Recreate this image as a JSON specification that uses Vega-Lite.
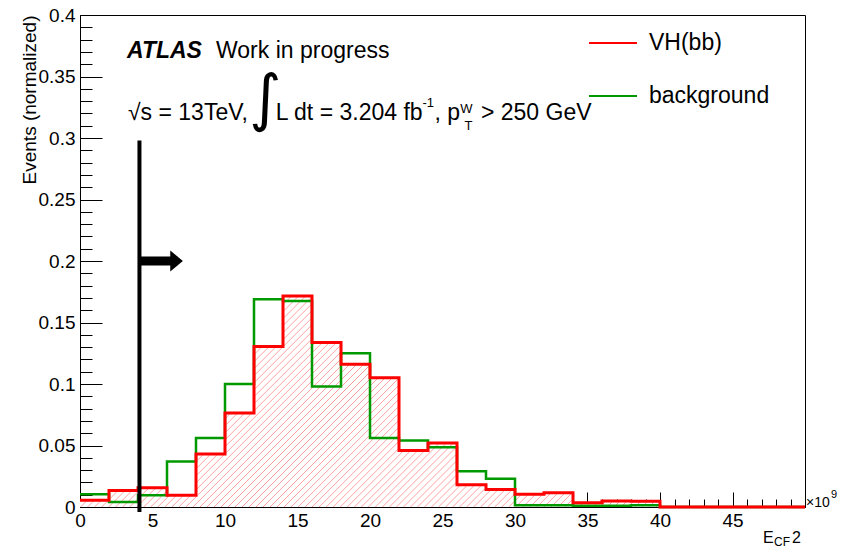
{
  "$schema": "https://vega.github.io/schema/vega-lite/v6.json",
  "width": 725,
  "height": 492,
  "autosize": {"type": "none"},
  "padding": {"left": 80, "top": 15, "right": 47, "bottom": 46},
  "background": "white",
  "config": {
    "view": {"stroke": "black", "strokeWidth": 1},
    "font": "Liberation Sans",
    "axis": {"grid": false, "domainColor": "black", "tickColor": "black", "tickWidth": 1, "labelColor": "black", "labelFont": "Liberation Sans", "labelFontSize": 19, "labelOverlap": false, "labelFlush": false}
  },
  "datasets": {
    "hist": [
      {"series": "background", "x": 0, "y": 0.0103},
      {"series": "background", "x": 2, "y": 0.0040},
      {"series": "background", "x": 4, "y": 0.0095},
      {"series": "background", "x": 6, "y": 0.0370},
      {"series": "background", "x": 8, "y": 0.0560},
      {"series": "background", "x": 10, "y": 0.1000},
      {"series": "background", "x": 12, "y": 0.1690},
      {"series": "background", "x": 14, "y": 0.1675},
      {"series": "background", "x": 16, "y": 0.0980},
      {"series": "background", "x": 18, "y": 0.1250},
      {"series": "background", "x": 20, "y": 0.0560},
      {"series": "background", "x": 22, "y": 0.0540},
      {"series": "background", "x": 24, "y": 0.0486},
      {"series": "background", "x": 26, "y": 0.0290},
      {"series": "background", "x": 28, "y": 0.0230},
      {"series": "background", "x": 30, "y": 0.0014},
      {"series": "background", "x": 32, "y": 0.0014},
      {"series": "background", "x": 34, "y": 0.0010},
      {"series": "background", "x": 36, "y": 0.0010},
      {"series": "background", "x": 38, "y": 0.0014},
      {"series": "background", "x": 40, "y": 0},
      {"series": "background", "x": 42, "y": 0},
      {"series": "background", "x": 44, "y": 0},
      {"series": "background", "x": 46, "y": 0},
      {"series": "background", "x": 48, "y": 0},
      {"series": "background", "x": 50, "y": 0},
      {"series": "VH(bb)", "x": 0, "y": 0.0054},
      {"series": "VH(bb)", "x": 2, "y": 0.0135},
      {"series": "VH(bb)", "x": 4, "y": 0.0157},
      {"series": "VH(bb)", "x": 6, "y": 0.0095},
      {"series": "VH(bb)", "x": 8, "y": 0.0430},
      {"series": "VH(bb)", "x": 10, "y": 0.0764},
      {"series": "VH(bb)", "x": 12, "y": 0.1305},
      {"series": "VH(bb)", "x": 14, "y": 0.1715},
      {"series": "VH(bb)", "x": 16, "y": 0.1337},
      {"series": "VH(bb)", "x": 18, "y": 0.1160},
      {"series": "VH(bb)", "x": 20, "y": 0.1050},
      {"series": "VH(bb)", "x": 22, "y": 0.0460},
      {"series": "VH(bb)", "x": 24, "y": 0.0520},
      {"series": "VH(bb)", "x": 26, "y": 0.0180},
      {"series": "VH(bb)", "x": 28, "y": 0.0143},
      {"series": "VH(bb)", "x": 30, "y": 0.0103},
      {"series": "VH(bb)", "x": 32, "y": 0.0116},
      {"series": "VH(bb)", "x": 34, "y": 0.0035},
      {"series": "VH(bb)", "x": 36, "y": 0.0049},
      {"series": "VH(bb)", "x": 38, "y": 0.0046},
      {"series": "VH(bb)", "x": 40, "y": 0},
      {"series": "VH(bb)", "x": 42, "y": 0},
      {"series": "VH(bb)", "x": 44, "y": 0},
      {"series": "VH(bb)", "x": 46, "y": 0},
      {"series": "VH(bb)", "x": 48, "y": 0},
      {"series": "VH(bb)", "x": 50, "y": 0}
    ]
  },
  "encoding": {
    "x": {"field": "x", "type": "quantitative", "scale": {"domain": [0, 50], "nice": false, "zero": false},
      "axis": {"title": null, "values": [0,1,2,3,4,5,6,7,8,9,10,11,12,13,14,15,16,17,18,19,20,21,22,23,24,25,26,27,28,29,30,31,32,33,34,35,36,37,38,39,40,41,42,43,44,45,46,47,48,49,50],
        "tickSize": {"condition": {"test": "datum.value % 5 === 0", "value": -15}, "value": -8},
        "labelExpr": "datum.value % 5 === 0 && datum.value < 50 ? datum.label : ''", "labelPadding": 19}},
    "y": {"field": "y", "type": "quantitative", "scale": {"domain": [0, 0.4], "nice": false},
      "axis": {"title": "Events (normalized)", "titleFont": "Liberation Sans", "titleFontSize": 19, "titleFontWeight": "normal", "titleColor": "black",
        "titleAngle": -90, "titleAlign": "right", "titleBaseline": "alphabetic", "titleX": -45, "titleY": 0,
        "values": [0,0.01,0.02,0.03,0.04,0.05,0.06,0.07,0.08,0.09,0.1,0.11,0.12,0.13,0.14,0.15,0.16,0.17,0.18,0.19,0.2,0.21,0.22,0.23,0.24,0.25,0.26,0.27,0.28,0.29,0.3,0.31,0.32,0.33,0.34,0.35,0.36,0.37,0.38,0.39,0.4],
        "tickSize": {"condition": {"test": "round(datum.value * 100) % 5 === 0", "value": -22}, "value": -12},
        "labelExpr": "round(datum.value * 100) % 5 === 0 ? format(datum.value, '~g') : ''", "labelPadding": 27}}
  },
  "layer": [
    {
      "data": {"name": "hist"},
      "transform": [{"filter": "datum.series === 'VH(bb)'"}],
      "mark": {"type": "area", "interpolate": "step-after", "fill": {"gradient": "linear", "x1": 0, "y1": 0, "x2": 1.1902, "y2": 0.3464, "stops": [
        {"offset":0,"color":"#fff"},{"offset":0.001,"color":"#f99"},{"offset":0.002,"color":"#fff"},
        {"offset":0.0075,"color":"#fff"},{"offset":0.0085,"color":"#f99"},{"offset":0.0095,"color":"#fff"},
        {"offset":0.015,"color":"#fff"},{"offset":0.016,"color":"#f99"},{"offset":0.017,"color":"#fff"},
        {"offset":0.0225,"color":"#fff"},{"offset":0.0235,"color":"#f99"},{"offset":0.0245,"color":"#fff"},
        {"offset":0.03,"color":"#fff"},{"offset":0.031,"color":"#f99"},{"offset":0.032,"color":"#fff"},
        {"offset":0.0375,"color":"#fff"},{"offset":0.0385,"color":"#f99"},{"offset":0.0395,"color":"#fff"},
        {"offset":0.045,"color":"#fff"},{"offset":0.046,"color":"#f99"},{"offset":0.047,"color":"#fff"},
        {"offset":0.0525,"color":"#fff"},{"offset":0.0535,"color":"#f99"},{"offset":0.0545,"color":"#fff"},
        {"offset":0.06,"color":"#fff"},{"offset":0.061,"color":"#f99"},{"offset":0.062,"color":"#fff"},
        {"offset":0.0675,"color":"#fff"},{"offset":0.0685,"color":"#f99"},{"offset":0.0695,"color":"#fff"},
        {"offset":0.075,"color":"#fff"},{"offset":0.076,"color":"#f99"},{"offset":0.077,"color":"#fff"},
        {"offset":0.0825,"color":"#fff"},{"offset":0.0835,"color":"#f99"},{"offset":0.0845,"color":"#fff"},
        {"offset":0.09,"color":"#fff"},{"offset":0.091,"color":"#f99"},{"offset":0.092,"color":"#fff"},
        {"offset":0.0975,"color":"#fff"},{"offset":0.0985,"color":"#f99"},{"offset":0.0995,"color":"#fff"},
        {"offset":0.105,"color":"#fff"},{"offset":0.106,"color":"#f99"},{"offset":0.107,"color":"#fff"},
        {"offset":0.1125,"color":"#fff"},{"offset":0.1135,"color":"#f99"},{"offset":0.1145,"color":"#fff"},
        {"offset":0.12,"color":"#fff"},{"offset":0.121,"color":"#f99"},{"offset":0.122,"color":"#fff"},
        {"offset":0.1275,"color":"#fff"},{"offset":0.1285,"color":"#f99"},{"offset":0.1295,"color":"#fff"},
        {"offset":0.135,"color":"#fff"},{"offset":0.136,"color":"#f99"},{"offset":0.137,"color":"#fff"},
        {"offset":0.1425,"color":"#fff"},{"offset":0.1435,"color":"#f99"},{"offset":0.1445,"color":"#fff"},
        {"offset":0.15,"color":"#fff"},{"offset":0.151,"color":"#f99"},{"offset":0.152,"color":"#fff"},
        {"offset":0.1575,"color":"#fff"},{"offset":0.1585,"color":"#f99"},{"offset":0.1595,"color":"#fff"},
        {"offset":0.165,"color":"#fff"},{"offset":0.166,"color":"#f99"},{"offset":0.167,"color":"#fff"},
        {"offset":0.1725,"color":"#fff"},{"offset":0.1735,"color":"#f99"},{"offset":0.1745,"color":"#fff"},
        {"offset":0.18,"color":"#fff"},{"offset":0.181,"color":"#f99"},{"offset":0.182,"color":"#fff"},
        {"offset":0.1875,"color":"#fff"},{"offset":0.1885,"color":"#f99"},{"offset":0.1895,"color":"#fff"},
        {"offset":0.195,"color":"#fff"},{"offset":0.196,"color":"#f99"},{"offset":0.197,"color":"#fff"},
        {"offset":0.2025,"color":"#fff"},{"offset":0.2035,"color":"#f99"},{"offset":0.2045,"color":"#fff"},
        {"offset":0.21,"color":"#fff"},{"offset":0.211,"color":"#f99"},{"offset":0.212,"color":"#fff"},
        {"offset":0.2175,"color":"#fff"},{"offset":0.2185,"color":"#f99"},{"offset":0.2195,"color":"#fff"},
        {"offset":0.225,"color":"#fff"},{"offset":0.226,"color":"#f99"},{"offset":0.227,"color":"#fff"},
        {"offset":0.2325,"color":"#fff"},{"offset":0.2335,"color":"#f99"},{"offset":0.2345,"color":"#fff"},
        {"offset":0.24,"color":"#fff"},{"offset":0.241,"color":"#f99"},{"offset":0.242,"color":"#fff"},
        {"offset":0.2475,"color":"#fff"},{"offset":0.2485,"color":"#f99"},{"offset":0.2495,"color":"#fff"},
        {"offset":0.255,"color":"#fff"},{"offset":0.256,"color":"#f99"},{"offset":0.257,"color":"#fff"},
        {"offset":0.2625,"color":"#fff"},{"offset":0.2635,"color":"#f99"},{"offset":0.2645,"color":"#fff"},
        {"offset":0.27,"color":"#fff"},{"offset":0.271,"color":"#f99"},{"offset":0.272,"color":"#fff"},
        {"offset":0.2775,"color":"#fff"},{"offset":0.2785,"color":"#f99"},{"offset":0.2795,"color":"#fff"},
        {"offset":0.285,"color":"#fff"},{"offset":0.286,"color":"#f99"},{"offset":0.287,"color":"#fff"},
        {"offset":0.2925,"color":"#fff"},{"offset":0.2935,"color":"#f99"},{"offset":0.2945,"color":"#fff"},
        {"offset":0.3,"color":"#fff"},{"offset":0.301,"color":"#f99"},{"offset":0.302,"color":"#fff"},
        {"offset":0.3075,"color":"#fff"},{"offset":0.3085,"color":"#f99"},{"offset":0.3095,"color":"#fff"},
        {"offset":0.315,"color":"#fff"},{"offset":0.316,"color":"#f99"},{"offset":0.317,"color":"#fff"},
        {"offset":0.3225,"color":"#fff"},{"offset":0.3235,"color":"#f99"},{"offset":0.3245,"color":"#fff"},
        {"offset":0.33,"color":"#fff"},{"offset":0.331,"color":"#f99"},{"offset":0.332,"color":"#fff"},
        {"offset":0.3375,"color":"#fff"},{"offset":0.3385,"color":"#f99"},{"offset":0.3395,"color":"#fff"},
        {"offset":0.345,"color":"#fff"},{"offset":0.346,"color":"#f99"},{"offset":0.347,"color":"#fff"},
        {"offset":0.3525,"color":"#fff"},{"offset":0.3535,"color":"#f99"},{"offset":0.3545,"color":"#fff"},
        {"offset":0.36,"color":"#fff"},{"offset":0.361,"color":"#f99"},{"offset":0.362,"color":"#fff"},
        {"offset":0.3675,"color":"#fff"},{"offset":0.3685,"color":"#f99"},{"offset":0.3695,"color":"#fff"},
        {"offset":0.375,"color":"#fff"},{"offset":0.376,"color":"#f99"},{"offset":0.377,"color":"#fff"},
        {"offset":0.3825,"color":"#fff"},{"offset":0.3835,"color":"#f99"},{"offset":0.3845,"color":"#fff"},
        {"offset":0.39,"color":"#fff"},{"offset":0.391,"color":"#f99"},{"offset":0.392,"color":"#fff"},
        {"offset":0.3975,"color":"#fff"},{"offset":0.3985,"color":"#f99"},{"offset":0.3995,"color":"#fff"},
        {"offset":0.405,"color":"#fff"},{"offset":0.406,"color":"#f99"},{"offset":0.407,"color":"#fff"},
        {"offset":0.4125,"color":"#fff"},{"offset":0.4135,"color":"#f99"},{"offset":0.4145,"color":"#fff"},
        {"offset":0.42,"color":"#fff"},{"offset":0.421,"color":"#f99"},{"offset":0.422,"color":"#fff"},
        {"offset":0.4275,"color":"#fff"},{"offset":0.4285,"color":"#f99"},{"offset":0.4295,"color":"#fff"},
        {"offset":0.435,"color":"#fff"},{"offset":0.436,"color":"#f99"},{"offset":0.437,"color":"#fff"},
        {"offset":0.4425,"color":"#fff"},{"offset":0.4435,"color":"#f99"},{"offset":0.4445,"color":"#fff"},
        {"offset":0.45,"color":"#fff"},{"offset":0.451,"color":"#f99"},{"offset":0.452,"color":"#fff"},
        {"offset":0.4575,"color":"#fff"},{"offset":0.4585,"color":"#f99"},{"offset":0.4595,"color":"#fff"},
        {"offset":0.465,"color":"#fff"},{"offset":0.466,"color":"#f99"},{"offset":0.467,"color":"#fff"},
        {"offset":0.4725,"color":"#fff"},{"offset":0.4735,"color":"#f99"},{"offset":0.4745,"color":"#fff"},
        {"offset":0.48,"color":"#fff"},{"offset":0.481,"color":"#f99"},{"offset":0.482,"color":"#fff"},
        {"offset":0.4875,"color":"#fff"},{"offset":0.4885,"color":"#f99"},{"offset":0.4895,"color":"#fff"},
        {"offset":0.495,"color":"#fff"},{"offset":0.496,"color":"#f99"},{"offset":0.497,"color":"#fff"},
        {"offset":0.5025,"color":"#fff"},{"offset":0.5035,"color":"#f99"},{"offset":0.5045,"color":"#fff"},
        {"offset":0.51,"color":"#fff"},{"offset":0.511,"color":"#f99"},{"offset":0.512,"color":"#fff"},
        {"offset":0.5175,"color":"#fff"},{"offset":0.5185,"color":"#f99"},{"offset":0.5195,"color":"#fff"},
        {"offset":0.525,"color":"#fff"},{"offset":0.526,"color":"#f99"},{"offset":0.527,"color":"#fff"},
        {"offset":0.5325,"color":"#fff"},{"offset":0.5335,"color":"#f99"},{"offset":0.5345,"color":"#fff"},
        {"offset":0.54,"color":"#fff"},{"offset":0.541,"color":"#f99"},{"offset":0.542,"color":"#fff"},
        {"offset":0.5475,"color":"#fff"},{"offset":0.5485,"color":"#f99"},{"offset":0.5495,"color":"#fff"},
        {"offset":0.555,"color":"#fff"},{"offset":0.556,"color":"#f99"},{"offset":0.557,"color":"#fff"},
        {"offset":0.5625,"color":"#fff"},{"offset":0.5635,"color":"#f99"},{"offset":0.5645,"color":"#fff"},
        {"offset":0.57,"color":"#fff"},{"offset":0.571,"color":"#f99"},{"offset":0.572,"color":"#fff"},
        {"offset":0.5775,"color":"#fff"},{"offset":0.5785,"color":"#f99"},{"offset":0.5795,"color":"#fff"},
        {"offset":0.585,"color":"#fff"},{"offset":0.586,"color":"#f99"},{"offset":0.587,"color":"#fff"},
        {"offset":0.5925,"color":"#fff"},{"offset":0.5935,"color":"#f99"},{"offset":0.5945,"color":"#fff"},
        {"offset":0.6,"color":"#fff"},{"offset":0.601,"color":"#f99"},{"offset":0.602,"color":"#fff"},
        {"offset":0.6075,"color":"#fff"},{"offset":0.6085,"color":"#f99"},{"offset":0.6095,"color":"#fff"},
        {"offset":0.615,"color":"#fff"},{"offset":0.616,"color":"#f99"},{"offset":0.617,"color":"#fff"},
        {"offset":0.6225,"color":"#fff"},{"offset":0.6235,"color":"#f99"},{"offset":0.6245,"color":"#fff"},
        {"offset":0.63,"color":"#fff"},{"offset":0.631,"color":"#f99"},{"offset":0.632,"color":"#fff"},
        {"offset":0.6375,"color":"#fff"},{"offset":0.6385,"color":"#f99"},{"offset":0.6395,"color":"#fff"},
        {"offset":0.645,"color":"#fff"},{"offset":0.646,"color":"#f99"},{"offset":0.647,"color":"#fff"},
        {"offset":0.6525,"color":"#fff"},{"offset":0.6535,"color":"#f99"},{"offset":0.6545,"color":"#fff"},
        {"offset":0.66,"color":"#fff"},{"offset":0.661,"color":"#f99"},{"offset":0.662,"color":"#fff"},
        {"offset":0.6675,"color":"#fff"},{"offset":0.6685,"color":"#f99"},{"offset":0.6695,"color":"#fff"},
        {"offset":0.675,"color":"#fff"},{"offset":0.676,"color":"#f99"},{"offset":0.677,"color":"#fff"},
        {"offset":0.6825,"color":"#fff"},{"offset":0.6835,"color":"#f99"},{"offset":0.6845,"color":"#fff"},
        {"offset":0.69,"color":"#fff"},{"offset":0.691,"color":"#f99"},{"offset":0.692,"color":"#fff"},
        {"offset":0.6975,"color":"#fff"},{"offset":0.6985,"color":"#f99"},{"offset":0.6995,"color":"#fff"},
        {"offset":0.705,"color":"#fff"},{"offset":0.706,"color":"#f99"},{"offset":0.707,"color":"#fff"},
        {"offset":0.7125,"color":"#fff"},{"offset":0.7135,"color":"#f99"},{"offset":0.7145,"color":"#fff"},
        {"offset":0.72,"color":"#fff"},{"offset":0.721,"color":"#f99"},{"offset":0.722,"color":"#fff"},
        {"offset":0.7275,"color":"#fff"},{"offset":0.7285,"color":"#f99"},{"offset":0.7295,"color":"#fff"},
        {"offset":0.735,"color":"#fff"},{"offset":0.736,"color":"#f99"},{"offset":0.737,"color":"#fff"},
        {"offset":0.7425,"color":"#fff"},{"offset":0.7435,"color":"#f99"},{"offset":0.7445,"color":"#fff"},
        {"offset":0.75,"color":"#fff"},{"offset":0.751,"color":"#f99"},{"offset":0.752,"color":"#fff"},
        {"offset":0.7575,"color":"#fff"},{"offset":0.7585,"color":"#f99"},{"offset":0.7595,"color":"#fff"},
        {"offset":0.765,"color":"#fff"},{"offset":0.766,"color":"#f99"},{"offset":0.767,"color":"#fff"},
        {"offset":0.7725,"color":"#fff"},{"offset":0.7735,"color":"#f99"},{"offset":0.7745,"color":"#fff"},
        {"offset":0.78,"color":"#fff"},{"offset":0.781,"color":"#f99"},{"offset":0.782,"color":"#fff"},
        {"offset":0.7875,"color":"#fff"},{"offset":0.7885,"color":"#f99"},{"offset":0.7895,"color":"#fff"},
        {"offset":0.795,"color":"#fff"},{"offset":0.796,"color":"#f99"},{"offset":0.797,"color":"#fff"},
        {"offset":0.8025,"color":"#fff"},{"offset":0.8035,"color":"#f99"},{"offset":0.8045,"color":"#fff"},
        {"offset":0.81,"color":"#fff"},{"offset":0.811,"color":"#f99"},{"offset":0.812,"color":"#fff"},
        {"offset":0.8175,"color":"#fff"},{"offset":0.8185,"color":"#f99"},{"offset":0.8195,"color":"#fff"},
        {"offset":0.825,"color":"#fff"},{"offset":0.826,"color":"#f99"},{"offset":0.827,"color":"#fff"},
        {"offset":0.8325,"color":"#fff"},{"offset":0.8335,"color":"#f99"},{"offset":0.8345,"color":"#fff"},
        {"offset":0.84,"color":"#fff"},{"offset":0.841,"color":"#f99"},{"offset":0.842,"color":"#fff"},
        {"offset":0.8475,"color":"#fff"},{"offset":0.8485,"color":"#f99"},{"offset":0.8495,"color":"#fff"},
        {"offset":0.855,"color":"#fff"},{"offset":0.856,"color":"#f99"},{"offset":0.857,"color":"#fff"},
        {"offset":0.8625,"color":"#fff"},{"offset":0.8635,"color":"#f99"},{"offset":0.8645,"color":"#fff"},
        {"offset":0.87,"color":"#fff"},{"offset":0.871,"color":"#f99"},{"offset":0.872,"color":"#fff"},
        {"offset":0.8775,"color":"#fff"},{"offset":0.8785,"color":"#f99"},{"offset":0.8795,"color":"#fff"},
        {"offset":0.885,"color":"#fff"},{"offset":0.886,"color":"#f99"},{"offset":0.887,"color":"#fff"},
        {"offset":0.8925,"color":"#fff"},{"offset":0.8935,"color":"#f99"},{"offset":0.8945,"color":"#fff"},
        {"offset":0.9,"color":"#fff"},{"offset":0.901,"color":"#f99"},{"offset":0.902,"color":"#fff"},
        {"offset":0.9075,"color":"#fff"},{"offset":0.9085,"color":"#f99"},{"offset":0.9095,"color":"#fff"},
        {"offset":0.915,"color":"#fff"},{"offset":0.916,"color":"#f99"},{"offset":0.917,"color":"#fff"},
        {"offset":0.9225,"color":"#fff"},{"offset":0.9235,"color":"#f99"},{"offset":0.9245,"color":"#fff"},
        {"offset":0.93,"color":"#fff"},{"offset":0.931,"color":"#f99"},{"offset":0.932,"color":"#fff"},
        {"offset":0.9375,"color":"#fff"},{"offset":0.9385,"color":"#f99"},{"offset":0.9395,"color":"#fff"},
        {"offset":0.945,"color":"#fff"},{"offset":0.946,"color":"#f99"},{"offset":0.947,"color":"#fff"},
        {"offset":0.9525,"color":"#fff"},{"offset":0.9535,"color":"#f99"},{"offset":0.9545,"color":"#fff"},
        {"offset":0.96,"color":"#fff"},{"offset":0.961,"color":"#f99"},{"offset":0.962,"color":"#fff"},
        {"offset":0.9675,"color":"#fff"},{"offset":0.9685,"color":"#f99"},{"offset":0.9695,"color":"#fff"},
        {"offset":0.975,"color":"#fff"},{"offset":0.976,"color":"#f99"},{"offset":0.977,"color":"#fff"},
        {"offset":0.9825,"color":"#fff"},{"offset":0.9835,"color":"#f99"},{"offset":0.9845,"color":"#fff"},
        {"offset":0.99,"color":"#fff"},{"offset":0.991,"color":"#f99"},{"offset":0.992,"color":"#fff"},
        {"offset":1,"color":"#fff"}
      ]}}
    },
    {
      "data": {"name": "hist"},
      "transform": [{"filter": "datum.series === 'background'"}],
      "mark": {"type": "line", "interpolate": "step-after", "strokeWidth": 2.5, "strokeJoin": "miter"},
      "encoding": {
        "color": {"field": "series", "type": "nominal", "scale": {"domain": ["VH(bb)", "background"], "range": ["#ff0000", "#009900"]},
          "legend": {"orient": "none", "legendX": 508, "legendY": 3, "title": null, "symbolType": "stroke", "symbolSize": 2304, "symbolStrokeWidth": 2, "labelFont": "Liberation Sans", "labelFontSize": 23, "labelColor": "black", "labelOffset": 11, "rowPadding": 16, "padding": 0}}
      }
    },
    {
      "data": {"name": "hist"},
      "transform": [{"filter": "datum.series === 'VH(bb)'"}],
      "mark": {"type": "line", "interpolate": "step-after", "strokeWidth": 3, "strokeJoin": "miter"},
      "encoding": {
        "color": {"field": "series", "type": "nominal"}
      }
    },
    {
      "data": {"values": [{"x": 4.1, "y": -0.004, "y2": 0.298}]},
      "mark": {"type": "rule", "color": "black", "strokeWidth": 4, "clip": false},
      "encoding": {"y2": {"field": "y2"}}
    },
    {
      "data": {"values": [{"x": 4.1, "x2": 6.7, "y": 0.2}]},
      "mark": {"type": "rule", "color": "black", "strokeWidth": 9},
      "encoding": {"x2": {"field": "x2"}}
    },
    {
      "data": {"values": [{"x": 6.66, "y": 0.2}]},
      "mark": {"type": "point", "shape": "M-0.6,-1L0.6,0L-0.6,1Z", "size": 441, "filled": true, "color": "black", "opacity": 1}
    },
    {
      "data": {"values": [{"x": 3.24, "y": 0.365, "t": "ATLAS"}]},
      "mark": {"type": "text", "align": "left", "baseline": "alphabetic", "font": "Liberation Sans", "fontSize": 23, "fontWeight": "bold", "fontStyle": "italic", "color": "black"},
      "encoding": {"text": {"field": "t"}}
    },
    {
      "data": {"values": [
        {"x": 9.38, "y": 0.365, "t": "Work in progress"},
        {"x": 3.31, "y": 0.3146, "t": "√s = 13TeV,"},
        {"x": 13.5, "y": 0.3146, "t": "L dt = 3.204 fb"},
        {"x": 24.45, "y": 0.3146, "t": ", p"},
        {"x": 27.65, "y": 0.3146, "t": "> 250 GeV"}
      ]},
      "mark": {"type": "text", "align": "left", "baseline": "alphabetic", "font": "Liberation Sans", "fontSize": 23, "color": "black"},
      "encoding": {"text": {"field": "t"}}
    },
    {
      "data": {"values": [{"x": 11.65, "y": 0.3156, "t": "∫"}]},
      "mark": {"type": "text", "align": "left", "baseline": "alphabetic", "font": "DejaVu Sans", "fontSize": 62, "color": "black"},
      "encoding": {"text": {"field": "t"}}
    },
    {
      "data": {"values": [
        {"x": 23.62, "y": 0.325, "t": "-1"},
        {"x": 26.22, "y": 0.320, "t": "W"},
        {"x": 26.52, "y": 0.3065, "t": "T"}
      ]},
      "mark": {"type": "text", "align": "left", "baseline": "alphabetic", "font": "Liberation Sans", "fontSize": 13, "color": "black", "clip": false},
      "encoding": {"text": {"field": "t"}}
    },
    {
      "data": {"values": [{"x": 50.07, "y": 0.0, "t": "×10"}]},
      "mark": {"type": "text", "align": "left", "baseline": "alphabetic", "font": "Liberation Sans", "fontSize": 14, "color": "black", "clip": false},
      "encoding": {"text": {"field": "t"}}
    },
    {
      "data": {"values": [{"x": 51.79, "y": 0.0075, "t": "9"}]},
      "mark": {"type": "text", "align": "left", "baseline": "alphabetic", "font": "Liberation Sans", "fontSize": 11, "color": "black", "clip": false},
      "encoding": {"text": {"field": "t"}}
    },
    {
      "data": {"values": [{"x": 47.1, "y": -0.029, "t": "E"}, {"x": 49.1, "y": -0.029, "t": "2"}]},
      "mark": {"type": "text", "align": "left", "baseline": "alphabetic", "font": "Liberation Sans", "fontSize": 16, "color": "black", "clip": false},
      "encoding": {"text": {"field": "t"}}
    },
    {
      "data": {"values": [{"x": 47.86, "y": -0.0315, "t": "CF"}]},
      "mark": {"type": "text", "align": "left", "baseline": "alphabetic", "font": "Liberation Sans", "fontSize": 12, "color": "black", "clip": false},
      "encoding": {"text": {"field": "t"}}
    }
  ]
}
